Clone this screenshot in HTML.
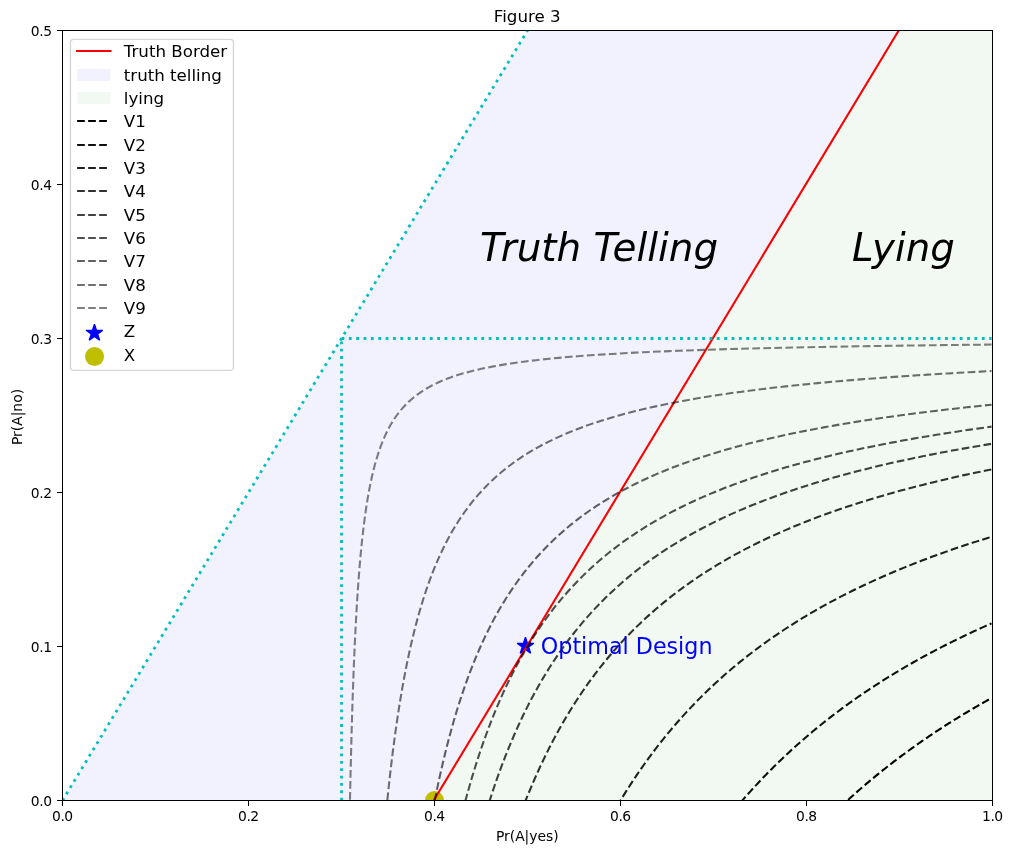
<!DOCTYPE html>
<html lang="en"><head><meta charset="utf-8"><title>Figure 3</title>
<style>html,body{margin:0;padding:0;background:#fff;}body{width:1012px;height:854px;overflow:hidden;}svg{display:block;will-change:transform;transform:translateZ(0);}text{font-family:"DejaVu Sans","Liberation Sans",sans-serif;fill:#000;}</style></head><body>
<svg width="1012" height="854" viewBox="0 0 1012 854">
<rect x="0" y="0" width="1012" height="854" fill="#ffffff"/>
<defs><clipPath id="ax"><rect x="62.5" y="30.5" width="930" height="770"/></clipPath></defs>
<g clip-path="url(#ax)">
<polygon points="62.5,800.5 527.5,30.5 899.5,30.5 434.5,800.5" fill="#0000ff" fill-opacity="0.05"/>
<polygon points="434.5,800.5 899.5,30.5 992.5,30.5 992.5,800.5" fill="#008000" fill-opacity="0.05"/>
<polygon points="525.45,637.2 523.47,643.28 517.08,643.28 522.25,647.04 520.28,653.12 525.45,649.36 530.62,653.12 528.65,647.04 533.82,643.28 527.43,643.28" fill="#0000ff" stroke="#0000ff" stroke-width="1.3" stroke-linejoin="bevel"/>
<circle cx="434.5" cy="800.5" r="9.5" fill="#bfbf00"/>
<path d="M61.7 1416.5 L990.77 -121.96" fill="none" stroke="#ff0000" stroke-width="2.08" stroke-linecap="square"/>
<path d="M62.5 800.5 L991.57 -737.96" fill="none" stroke="#00bfbf" stroke-width="2.78" stroke-dasharray="2.78 4.58"/>
<path d="M341.5 800.5 L341.5 338.5" fill="none" stroke="#00bfbf" stroke-width="2.78" stroke-dasharray="2.78 4.58"/>
<path d="M341.5 338.5 L991.57 338.5" fill="none" stroke="#00bfbf" stroke-width="2.78" stroke-dasharray="2.78 4.58"/>
<path d="M794.04 855 L795.07 853.82 L796.1 852.65 L797.14 851.48 L798.18 850.31 L799.22 849.15 L800.26 847.99 L801.31 846.83 L802.36 845.67 L803.41 844.52 L804.46 843.37 L805.52 842.22 L806.58 841.07 L807.64 839.93 L808.7 838.79 L809.77 837.65 L810.84 836.51 L811.91 835.38 L812.98 834.25 L814.05 833.12 L815.13 832 L816.21 830.87 L817.29 829.75 L818.38 828.63 L819.47 827.52 L820.56 826.41 L821.65 825.3 L822.74 824.19 L823.84 823.08 L824.94 821.98 L826.04 820.88 L827.15 819.78 L828.26 818.69 L829.37 817.6 L830.48 816.5 L831.6 815.42 L832.71 814.33 L833.83 813.25 L834.96 812.17 L836.08 811.09 L837.21 810.02 L838.34 808.94 L839.47 807.87 L840.61 806.8 L841.75 805.74 L842.89 804.68 L844.03 803.61 L845.18 802.56 L846.33 801.5 L847.48 800.45 L848.63 799.4 L849.79 798.35 L850.95 797.3 L852.11 796.26 L853.27 795.22 L854.44 794.18 L855.61 793.14 L856.78 792.1 L857.96 791.07 L859.14 790.04 L860.32 789.02 L861.5 787.99 L862.69 786.97 L863.88 785.95 L865.07 784.93 L866.26 783.91 L867.46 782.9 L868.66 781.89 L869.86 780.88 L871.06 779.87 L872.27 778.87 L873.48 777.87 L874.7 776.87 L875.91 775.87 L877.13 774.87 L878.35 773.88 L879.58 772.89 L880.8 771.9 L882.03 770.92 L883.27 769.93 L884.5 768.95 L885.74 767.97 L886.98 766.99 L888.23 766.02 L889.47 765.05 L890.72 764.07 L891.97 763.11 L893.23 762.14 L894.49 761.18 L895.75 760.21 L897.01 759.25 L898.28 758.3 L899.55 757.34 L900.82 756.39 L902.1 755.44 L903.38 754.49 L904.66 753.54 L905.94 752.6 L907.23 751.66 L908.52 750.72 L909.81 749.78 L911.11 748.84 L912.41 747.91 L913.71 746.98 L915.02 746.05 L916.32 745.12 L917.64 744.19 L918.95 743.27 L920.27 742.35 L921.59 741.43 L922.91 740.51 L924.24 739.6 L925.56 738.69 L926.9 737.78 L928.23 736.87 L929.57 735.96 L930.91 735.06 L932.26 734.15 L933.6 733.25 L934.95 732.36 L936.31 731.46 L937.66 730.57 L939.02 729.67 L940.39 728.78 L941.75 727.9 L943.12 727.01 L944.49 726.13 L945.87 725.24 L947.25 724.36 L948.63 723.49 L950.01 722.61 L951.4 721.74 L952.79 720.86 L954.18 719.99 L955.58 719.13 L956.98 718.26 L958.39 717.39 L959.79 716.53 L961.2 715.67 L962.62 714.81 L964.03 713.96 L965.45 713.1 L966.88 712.25 L968.3 711.4 L969.73 710.55 L971.16 709.71 L972.6 708.86 L974.04 708.02 L975.48 707.18 L976.93 706.34 L978.38 705.5 L979.83 704.67 L981.29 703.83 L982.75 703 L984.21 702.17 L985.67 701.34 L987.14 700.52 L988.61 699.7 L990.09 698.87 L991.57 698.05" fill="none" stroke="#000000" stroke-opacity="1" stroke-width="2.08" stroke-dasharray="7.71 3.33"/>
<path d="M700.04 855 L701.38 853.07 L702.73 851.15 L704.08 849.23 L705.44 847.33 L706.81 845.42 L708.18 843.53 L709.55 841.64 L710.93 839.77 L712.32 837.89 L713.71 836.03 L715.1 834.17 L716.5 832.32 L717.91 830.47 L719.32 828.63 L720.74 826.8 L722.16 824.98 L723.59 823.16 L725.02 821.35 L726.46 819.55 L727.9 817.75 L729.35 815.96 L730.8 814.18 L732.26 812.4 L733.73 810.63 L735.2 808.87 L736.68 807.11 L738.16 805.36 L739.64 803.62 L741.14 801.88 L742.64 800.15 L744.14 798.42 L745.65 796.7 L747.17 794.99 L748.69 793.29 L750.21 791.59 L751.75 789.9 L753.28 788.21 L754.83 786.53 L756.38 784.86 L757.93 783.19 L759.49 781.53 L761.06 779.87 L762.63 778.22 L764.21 776.58 L765.8 774.95 L767.39 773.32 L768.99 771.69 L770.59 770.07 L772.2 768.46 L773.81 766.85 L775.43 765.25 L777.06 763.66 L778.69 762.07 L780.33 760.49 L781.98 758.91 L783.63 757.34 L785.29 755.78 L786.95 754.22 L788.62 752.67 L790.3 751.12 L791.98 749.58 L793.67 748.04 L795.37 746.51 L797.07 744.99 L798.78 743.47 L800.49 741.96 L802.21 740.45 L803.94 738.95 L805.67 737.45 L807.41 735.96 L809.16 734.48 L810.91 733 L812.67 731.53 L814.44 730.06 L816.21 728.59 L817.99 727.14 L819.78 725.69 L821.57 724.24 L823.37 722.8 L825.18 721.36 L826.99 719.93 L828.81 718.51 L830.64 717.09 L832.48 715.67 L834.32 714.27 L836.16 712.86 L838.02 711.46 L839.88 710.07 L841.75 708.68 L843.63 707.3 L845.51 705.92 L847.4 704.55 L849.29 703.18 L851.2 701.82 L853.11 700.46 L855.03 699.11 L856.95 697.76 L858.89 696.42 L860.83 695.08 L862.77 693.75 L864.73 692.43 L866.69 691.1 L868.66 689.79 L870.64 688.47 L872.62 687.17 L874.61 685.86 L876.61 684.57 L878.62 683.27 L880.63 681.99 L882.65 680.7 L884.68 679.42 L886.72 678.15 L888.76 676.88 L890.81 675.62 L892.87 674.36 L894.94 673.1 L897.02 671.85 L899.1 670.61 L901.19 669.37 L903.29 668.13 L905.39 666.9 L907.51 665.67 L909.63 664.45 L911.76 663.23 L913.9 662.02 L916.05 660.81 L918.2 659.61 L920.36 658.41 L922.53 657.21 L924.71 656.02 L926.9 654.84 L929.09 653.66 L931.3 652.48 L933.51 651.31 L935.73 650.14 L937.95 648.97 L940.19 647.81 L942.44 646.66 L944.69 645.51 L946.95 644.36 L949.22 643.22 L951.5 642.08 L953.79 640.95 L956.08 639.82 L958.39 638.69 L960.7 637.57 L963.02 636.45 L965.35 635.34 L967.69 634.23 L970.04 633.13 L972.4 632.02 L974.76 630.93 L977.14 629.84 L979.52 628.75 L981.91 627.66 L984.31 626.58 L986.72 625.51 L989.14 624.44 L991.57 623.37" fill="none" stroke="#000000" stroke-opacity="0.94" stroke-width="2.08" stroke-dasharray="7.71 3.33"/>
<path d="M591.06 855 L592.57 851.9 L594.08 848.82 L595.61 845.75 L597.14 842.71 L598.69 839.68 L600.24 836.67 L601.8 833.68 L603.38 830.71 L604.96 827.76 L606.55 824.82 L608.15 821.9 L609.76 819 L611.38 816.11 L613.01 813.24 L614.65 810.4 L616.3 807.56 L617.96 804.75 L619.63 801.95 L621.31 799.17 L623 796.4 L624.7 793.65 L626.41 790.92 L628.13 788.2 L629.86 785.5 L631.6 782.82 L633.35 780.15 L635.12 777.5 L636.89 774.87 L638.67 772.25 L640.47 769.64 L642.27 767.05 L644.09 764.48 L645.92 761.92 L647.76 759.38 L649.61 756.86 L651.47 754.34 L653.34 751.85 L655.22 749.37 L657.12 746.9 L659.02 744.45 L660.94 742.01 L662.87 739.59 L664.81 737.18 L666.76 734.79 L668.73 732.41 L670.7 730.04 L672.69 727.69 L674.69 725.36 L676.71 723.03 L678.73 720.73 L680.77 718.43 L682.82 716.15 L684.88 713.88 L686.95 711.63 L689.04 709.39 L691.14 707.16 L693.25 704.95 L695.37 702.75 L697.51 700.56 L699.66 698.39 L701.82 696.23 L704 694.08 L706.19 691.95 L708.39 689.83 L710.61 687.72 L712.83 685.62 L715.08 683.54 L717.33 681.47 L719.6 679.41 L721.89 677.36 L724.18 675.33 L726.5 673.3 L728.82 671.29 L731.16 669.3 L733.51 667.31 L735.88 665.34 L738.26 663.37 L740.66 661.42 L743.07 659.49 L745.49 657.56 L747.93 655.64 L750.39 653.74 L752.86 651.85 L755.34 649.97 L757.84 648.1 L760.36 646.24 L762.89 644.39 L765.43 642.55 L767.99 640.73 L770.57 638.91 L773.16 637.11 L775.77 635.32 L778.39 633.54 L781.03 631.77 L783.68 630 L786.35 628.25 L789.04 626.52 L791.74 624.79 L794.46 623.07 L797.2 621.36 L799.95 619.66 L802.72 617.97 L805.5 616.3 L808.3 614.63 L811.12 612.97 L813.96 611.32 L816.81 609.69 L819.68 608.06 L822.57 606.44 L825.48 604.83 L828.4 603.23 L831.34 601.64 L834.3 600.06 L837.28 598.49 L840.27 596.93 L843.28 595.38 L846.31 593.84 L849.36 592.31 L852.43 590.78 L855.51 589.27 L858.62 587.76 L861.74 586.27 L864.88 584.78 L868.04 583.3 L871.22 581.83 L874.42 580.37 L877.64 578.92 L880.88 577.47 L884.14 576.04 L887.42 574.61 L890.71 573.2 L894.03 571.79 L897.37 570.39 L900.72 568.99 L904.1 567.61 L907.5 566.24 L910.92 564.87 L914.36 563.51 L917.82 562.16 L921.3 560.82 L924.8 559.48 L928.32 558.15 L931.86 556.84 L935.43 555.53 L939.02 554.22 L942.63 552.93 L946.26 551.64 L949.91 550.36 L953.58 549.09 L957.28 547.82 L961 546.57 L964.74 545.32 L968.5 544.08 L972.29 542.84 L976.1 541.62 L979.93 540.4 L983.79 539.19 L987.67 537.98 L991.57 536.78" fill="none" stroke="#000000" stroke-opacity="0.88" stroke-width="2.08" stroke-dasharray="7.71 3.33"/>
<path d="M506.21 855 L507.64 850.56 L509.08 846.16 L510.53 841.79 L512 837.47 L513.48 833.18 L514.97 828.92 L516.47 824.71 L517.99 820.53 L519.52 816.38 L521.06 812.27 L522.62 808.2 L524.19 804.16 L525.78 800.16 L527.37 796.19 L528.99 792.25 L530.61 788.35 L532.25 784.49 L533.91 780.65 L535.57 776.85 L537.26 773.08 L538.96 769.35 L540.67 765.64 L542.39 761.97 L544.14 758.33 L545.89 754.72 L547.67 751.14 L549.45 747.59 L551.26 744.08 L553.08 740.59 L554.91 737.13 L556.76 733.7 L558.63 730.31 L560.51 726.94 L562.41 723.6 L564.33 720.29 L566.26 717.01 L568.21 713.75 L570.17 710.53 L572.16 707.33 L574.16 704.16 L576.18 701.01 L578.21 697.9 L580.26 694.81 L582.33 691.74 L584.42 688.71 L586.53 685.69 L588.65 682.71 L590.8 679.75 L592.96 676.82 L595.14 673.91 L597.34 671.02 L599.56 668.17 L601.8 665.33 L604.05 662.52 L606.33 659.74 L608.63 656.97 L610.94 654.24 L613.28 651.52 L615.64 648.83 L618.01 646.16 L620.41 643.52 L622.83 640.89 L625.27 638.29 L627.73 635.72 L630.21 633.16 L632.72 630.63 L635.24 628.12 L637.79 625.63 L640.36 623.16 L642.95 620.71 L645.56 618.29 L648.2 615.88 L650.86 613.49 L653.54 611.13 L656.25 608.79 L658.98 606.46 L661.73 604.16 L664.51 601.88 L667.31 599.61 L670.14 597.37 L672.99 595.14 L675.86 592.93 L678.76 590.75 L681.68 588.58 L684.63 586.43 L687.61 584.3 L690.61 582.18 L693.64 580.09 L696.69 578.01 L699.77 575.95 L702.88 573.91 L706.01 571.89 L709.18 569.88 L712.36 567.89 L715.58 565.92 L718.82 563.96 L722.1 562.03 L725.4 560.1 L728.73 558.2 L732.08 556.31 L735.47 554.44 L738.89 552.58 L742.33 550.74 L745.81 548.91 L749.32 547.11 L752.85 545.31 L756.42 543.53 L760.02 541.77 L763.65 540.02 L767.31 538.29 L771 536.57 L774.72 534.87 L778.48 533.18 L782.27 531.51 L786.09 529.85 L789.95 528.2 L793.84 526.57 L797.76 524.96 L801.72 523.35 L805.71 521.76 L809.73 520.19 L813.79 518.63 L817.89 517.08 L822.02 515.54 L826.19 514.02 L830.39 512.51 L834.63 511.02 L838.91 509.53 L843.22 508.06 L847.57 506.6 L851.96 505.16 L856.39 503.73 L860.85 502.31 L865.36 500.9 L869.9 499.5 L874.48 498.12 L879.1 496.74 L883.76 495.38 L888.47 494.04 L893.21 492.7 L897.99 491.37 L902.82 490.06 L907.69 488.76 L912.6 487.46 L917.55 486.18 L922.55 484.91 L927.59 483.65 L932.67 482.41 L937.79 481.17 L942.97 479.94 L948.18 478.73 L953.44 477.52 L958.75 476.33 L964.1 475.14 L969.5 473.97 L974.95 472.8 L980.44 471.65 L985.98 470.5 L991.57 469.37" fill="none" stroke="#000000" stroke-opacity="0.81" stroke-width="2.08" stroke-dasharray="7.71 3.33"/>
<path d="M474.04 855 L475.38 849.86 L476.72 844.77 L478.08 839.73 L479.45 834.75 L480.84 829.81 L482.24 824.92 L483.66 820.08 L485.08 815.29 L486.53 810.54 L487.99 805.84 L489.46 801.19 L490.95 796.59 L492.45 792.03 L493.96 787.52 L495.5 783.05 L497.04 778.63 L498.61 774.25 L500.19 769.91 L501.78 765.62 L503.39 761.37 L505.02 757.16 L506.66 752.99 L508.32 748.87 L510 744.78 L511.69 740.74 L513.41 736.74 L515.13 732.77 L516.88 728.85 L518.64 724.97 L520.42 721.12 L522.22 717.31 L524.04 713.54 L525.87 709.81 L527.72 706.12 L529.6 702.46 L531.49 698.84 L533.4 695.25 L535.33 691.7 L537.27 688.19 L539.24 684.71 L541.23 681.26 L543.24 677.85 L545.26 674.47 L547.31 671.13 L549.38 667.82 L551.47 664.54 L553.58 661.3 L555.71 658.09 L557.87 654.91 L560.04 651.76 L562.24 648.64 L564.46 645.55 L566.7 642.5 L568.96 639.47 L571.25 636.48 L573.56 633.51 L575.89 630.58 L578.24 627.67 L580.62 624.79 L583.03 621.94 L585.45 619.12 L587.91 616.33 L590.38 613.57 L592.88 610.83 L595.41 608.12 L597.96 605.44 L600.54 602.78 L603.14 600.15 L605.77 597.55 L608.43 594.97 L611.11 592.42 L613.82 589.89 L616.56 587.39 L619.33 584.91 L622.12 582.46 L624.94 580.03 L627.79 577.63 L630.66 575.25 L633.57 572.89 L636.51 570.56 L639.47 568.25 L642.47 565.96 L645.49 563.7 L648.55 561.46 L651.63 559.24 L654.75 557.04 L657.9 554.87 L661.08 552.72 L664.29 550.58 L667.54 548.47 L670.81 546.38 L674.12 544.32 L677.47 542.27 L680.84 540.24 L684.25 538.23 L687.7 536.24 L691.18 534.28 L694.69 532.33 L698.24 530.4 L701.83 528.49 L705.45 526.6 L709.11 524.73 L712.8 522.87 L716.54 521.04 L720.31 519.22 L724.11 517.43 L727.96 515.64 L731.84 513.88 L735.77 512.14 L739.73 510.41 L743.73 508.7 L747.78 507 L751.86 505.33 L755.98 503.67 L760.15 502.02 L764.36 500.4 L768.61 498.79 L772.9 497.19 L777.24 495.61 L781.62 494.05 L786.04 492.5 L790.51 490.97 L795.02 489.45 L799.58 487.95 L804.18 486.46 L808.83 484.99 L813.53 483.53 L818.28 482.09 L823.07 480.66 L827.91 479.24 L832.8 477.84 L837.74 476.46 L842.72 475.08 L847.76 473.72 L852.85 472.38 L857.99 471.05 L863.18 469.73 L868.43 468.42 L873.72 467.13 L879.07 465.85 L884.47 464.58 L889.93 463.33 L895.44 462.08 L901.01 460.86 L906.64 459.64 L912.32 458.43 L918.05 457.24 L923.85 456.06 L929.7 454.89 L935.61 453.73 L941.59 452.58 L947.62 451.45 L953.71 450.32 L959.86 449.21 L966.08 448.11 L972.36 447.02 L978.7 445.94 L985.1 444.87 L991.57 443.81" fill="none" stroke="#000000" stroke-opacity="0.75" stroke-width="2.08" stroke-dasharray="7.71 3.33"/>
<path d="M452.42 855 L453.66 849.29 L454.91 843.64 L456.18 838.05 L457.46 832.53 L458.76 827.06 L460.07 821.66 L461.4 816.32 L462.74 811.03 L464.09 805.81 L465.46 800.64 L466.85 795.53 L468.25 790.47 L469.67 785.47 L471.1 780.53 L472.55 775.64 L474.02 770.81 L475.5 766.02 L477 761.3 L478.51 756.62 L480.05 752 L481.6 747.42 L483.16 742.9 L484.75 738.43 L486.35 734 L487.97 729.63 L489.61 725.3 L491.26 721.03 L492.94 716.8 L494.63 712.61 L496.34 708.47 L498.08 704.38 L499.83 700.34 L501.6 696.33 L503.39 692.38 L505.2 688.46 L507.03 684.59 L508.88 680.76 L510.75 676.98 L512.64 673.23 L514.56 669.53 L516.49 665.87 L518.45 662.25 L520.43 658.67 L522.43 655.13 L524.45 651.63 L526.5 648.16 L528.57 644.74 L530.66 641.35 L532.78 638 L534.92 634.69 L537.08 631.41 L539.27 628.18 L541.48 624.97 L543.71 621.8 L545.98 618.67 L548.26 615.57 L550.58 612.51 L552.91 609.48 L555.28 606.48 L557.67 603.52 L560.09 600.58 L562.53 597.69 L565 594.82 L567.5 591.98 L570.03 589.18 L572.59 586.41 L575.17 583.67 L577.78 580.96 L580.43 578.27 L583.1 575.62 L585.8 573 L588.53 570.41 L591.29 567.84 L594.09 565.3 L596.91 562.8 L599.77 560.32 L602.66 557.86 L605.58 555.44 L608.53 553.04 L611.52 550.66 L614.54 548.32 L617.59 546 L620.68 543.7 L623.8 541.43 L626.96 539.19 L630.15 536.97 L633.38 534.77 L636.64 532.6 L639.94 530.46 L643.28 528.33 L646.66 526.23 L650.07 524.16 L653.52 522.1 L657.01 520.07 L660.54 518.07 L664.11 516.08 L667.71 514.12 L671.36 512.17 L675.05 510.25 L678.78 508.35 L682.55 506.47 L686.37 504.62 L690.22 502.78 L694.12 500.96 L698.07 499.17 L702.05 497.39 L706.09 495.63 L710.16 493.89 L714.29 492.17 L718.46 490.48 L722.67 488.79 L726.93 487.13 L731.25 485.49 L735.6 483.86 L740.01 482.25 L744.47 480.66 L748.98 479.09 L753.53 477.54 L758.14 476 L762.8 474.48 L767.51 472.98 L772.28 471.49 L777.09 470.02 L781.96 468.56 L786.89 467.12 L791.87 465.7 L796.91 464.29 L802 462.9 L807.15 461.53 L812.36 460.17 L817.62 458.82 L822.95 457.49 L828.33 456.17 L833.78 454.87 L839.28 453.59 L844.85 452.31 L850.48 451.05 L856.17 449.81 L861.93 448.58 L867.75 447.36 L873.63 446.16 L879.58 444.97 L885.6 443.79 L891.69 442.62 L897.84 441.47 L904.06 440.33 L910.35 439.21 L916.72 438.09 L923.15 436.99 L929.65 435.9 L936.23 434.83 L942.88 433.76 L949.61 432.71 L956.41 431.67 L963.28 430.63 L970.24 429.62 L977.27 428.61 L984.38 427.61 L991.57 426.63" fill="none" stroke="#000000" stroke-opacity="0.69" stroke-width="2.08" stroke-dasharray="7.71 3.33"/>
<path d="M425.09 855 L426.16 848.33 L427.25 841.75 L428.34 835.25 L429.46 828.83 L430.58 822.5 L431.73 816.25 L432.88 810.08 L434.06 803.99 L435.24 797.98 L436.45 792.05 L437.67 786.19 L438.9 780.41 L440.15 774.71 L441.42 769.08 L442.71 763.52 L444.01 758.03 L445.33 752.62 L446.66 747.27 L448.01 742 L449.39 736.79 L450.77 731.65 L452.18 726.58 L453.61 721.57 L455.05 716.63 L456.51 711.75 L458 706.93 L459.5 702.18 L461.02 697.49 L462.56 692.86 L464.12 688.29 L465.71 683.78 L467.31 679.32 L468.93 674.93 L470.58 670.59 L472.25 666.31 L473.93 662.08 L475.65 657.91 L477.38 653.79 L479.14 649.72 L480.91 645.71 L482.72 641.75 L484.54 637.84 L486.39 633.98 L488.27 630.17 L490.17 626.41 L492.09 622.7 L494.04 619.04 L496.02 615.43 L498.02 611.86 L500.04 608.34 L502.1 604.86 L504.18 601.43 L506.29 598.04 L508.42 594.7 L510.58 591.4 L512.78 588.14 L515 584.93 L517.25 581.75 L519.53 578.62 L521.83 575.53 L524.17 572.48 L526.54 569.47 L528.95 566.49 L531.38 563.56 L533.84 560.66 L536.34 557.8 L538.87 554.98 L541.43 552.2 L544.03 549.45 L546.66 546.73 L549.33 544.05 L552.03 541.41 L554.76 538.8 L557.53 536.22 L560.34 533.68 L563.19 531.17 L566.07 528.7 L568.99 526.25 L571.95 523.84 L574.94 521.45 L577.98 519.1 L581.05 516.78 L584.17 514.49 L587.33 512.23 L590.53 510 L593.77 507.8 L597.05 505.62 L600.38 503.48 L603.75 501.36 L607.16 499.27 L610.62 497.2 L614.12 495.16 L617.67 493.15 L621.27 491.17 L624.92 489.21 L628.61 487.28 L632.35 485.37 L636.14 483.48 L639.98 481.62 L643.87 479.79 L647.81 477.98 L651.8 476.19 L655.84 474.42 L659.94 472.68 L664.09 470.96 L668.3 469.26 L672.56 467.59 L676.88 465.93 L681.25 464.3 L685.68 462.69 L690.17 461.1 L694.72 459.53 L699.32 457.98 L703.99 456.45 L708.72 454.94 L713.51 453.45 L718.37 451.98 L723.29 450.53 L728.27 449.1 L733.32 447.68 L738.43 446.29 L743.61 444.91 L748.86 443.55 L754.18 442.21 L759.57 440.88 L765.02 439.57 L770.55 438.28 L776.16 437.01 L781.83 435.75 L787.58 434.51 L793.41 433.28 L799.31 432.08 L805.29 430.88 L811.35 429.7 L817.49 428.54 L823.71 427.39 L830.01 426.26 L836.39 425.14 L842.86 424.04 L849.41 422.95 L856.04 421.87 L862.77 420.81 L869.58 419.76 L876.48 418.73 L883.47 417.71 L890.56 416.7 L897.74 415.7 L905.01 414.72 L912.37 413.75 L919.84 412.8 L927.4 411.85 L935.06 410.92 L942.82 410 L950.68 409.09 L958.65 408.2 L966.72 407.31 L974.89 406.44 L983.18 405.58 L991.57 404.73" fill="none" stroke="#000000" stroke-opacity="0.62" stroke-width="2.08" stroke-dasharray="7.71 3.33"/>
<path d="M382.4 855 L383.13 846.14 L383.87 837.44 L384.62 828.88 L385.39 820.47 L386.17 812.21 L386.96 804.08 L387.77 796.1 L388.59 788.25 L389.42 780.53 L390.27 772.95 L391.14 765.5 L392.02 758.18 L392.91 750.98 L393.82 743.9 L394.75 736.95 L395.69 730.11 L396.65 723.39 L397.62 716.79 L398.62 710.3 L399.63 703.92 L400.66 697.65 L401.7 691.49 L402.76 685.43 L403.85 679.48 L404.95 673.63 L406.07 667.88 L407.21 662.23 L408.37 656.67 L409.55 651.21 L410.75 645.84 L411.97 640.57 L413.21 635.39 L414.48 630.29 L415.76 625.28 L417.07 620.36 L418.4 615.52 L419.76 610.77 L421.14 606.09 L422.54 601.5 L423.96 596.98 L425.42 592.54 L426.89 588.18 L428.4 583.9 L429.92 579.68 L431.48 575.54 L433.06 571.47 L434.67 567.47 L436.31 563.54 L437.98 559.67 L439.67 555.87 L441.4 552.14 L443.15 548.47 L444.94 544.86 L446.76 541.32 L448.61 537.83 L450.49 534.41 L452.4 531.04 L454.35 527.73 L456.33 524.48 L458.35 521.29 L460.4 518.14 L462.48 515.06 L464.61 512.02 L466.77 509.04 L468.96 506.11 L471.2 503.23 L473.47 500.39 L475.79 497.61 L478.14 494.88 L480.54 492.19 L482.98 489.54 L485.46 486.95 L487.98 484.39 L490.55 481.88 L493.16 479.42 L495.82 476.99 L498.52 474.61 L501.27 472.27 L504.07 469.97 L506.92 467.7 L509.82 465.48 L512.76 463.29 L515.76 461.15 L518.81 459.04 L521.92 456.96 L525.08 454.92 L528.29 452.92 L531.56 450.95 L534.89 449.01 L538.27 447.11 L541.72 445.24 L545.22 443.4 L548.78 441.59 L552.41 439.81 L556.1 438.07 L559.86 436.35 L563.67 434.66 L567.56 433.01 L571.52 431.38 L575.54 429.78 L579.63 428.2 L583.8 426.66 L588.03 425.14 L592.34 423.64 L596.73 422.17 L601.19 420.73 L605.73 419.31 L610.35 417.91 L615.05 416.54 L619.83 415.2 L624.7 413.87 L629.65 412.57 L634.68 411.29 L639.81 410.03 L645.02 408.8 L650.32 407.58 L655.72 406.39 L661.21 405.22 L666.8 404.06 L672.48 402.93 L678.26 401.82 L684.15 400.72 L690.13 399.64 L696.22 398.59 L702.42 397.55 L708.72 396.52 L715.14 395.52 L721.66 394.53 L728.3 393.56 L735.06 392.61 L741.93 391.67 L748.92 390.75 L756.04 389.85 L763.28 388.96 L770.64 388.08 L778.13 387.22 L785.76 386.38 L793.51 385.54 L801.4 384.73 L809.43 383.93 L817.6 383.14 L825.91 382.36 L834.37 381.6 L842.97 380.85 L851.73 380.12 L860.63 379.39 L869.7 378.68 L878.91 377.98 L888.29 377.3 L897.84 376.62 L907.55 375.96 L917.43 375.31 L927.48 374.66 L937.7 374.03 L948.11 373.42 L958.69 372.81 L969.46 372.21 L980.42 371.62 L991.57 371.04" fill="none" stroke="#000000" stroke-opacity="0.56" stroke-width="2.08" stroke-dasharray="7.71 3.33"/>
<path d="M348.99 855 L349.22 841.05 L349.46 827.48 L349.71 814.27 L349.96 801.42 L350.22 788.92 L350.49 776.75 L350.77 764.91 L351.05 753.39 L351.34 742.18 L351.64 731.28 L351.94 720.67 L352.26 710.34 L352.58 700.29 L352.92 690.52 L353.26 681 L353.61 671.75 L353.97 662.74 L354.34 653.98 L354.73 645.45 L355.12 637.16 L355.52 629.08 L355.94 621.23 L356.36 613.59 L356.8 606.15 L357.25 598.91 L357.71 591.87 L358.19 585.02 L358.68 578.35 L359.18 571.87 L359.69 565.55 L360.22 559.41 L360.77 553.44 L361.33 547.62 L361.9 541.96 L362.5 536.46 L363.1 531.1 L363.73 525.89 L364.37 520.82 L365.03 515.88 L365.71 511.08 L366.4 506.41 L367.12 501.87 L367.86 497.44 L368.61 493.14 L369.39 488.95 L370.19 484.87 L371.01 480.91 L371.86 477.05 L372.72 473.3 L373.61 469.64 L374.53 466.09 L375.47 462.63 L376.44 459.27 L377.43 455.99 L378.46 452.81 L379.51 449.71 L380.59 446.69 L381.69 443.76 L382.83 440.9 L384.01 438.12 L385.21 435.42 L386.45 432.79 L387.72 430.23 L389.03 427.73 L390.37 425.31 L391.75 422.95 L393.17 420.66 L394.63 418.42 L396.13 416.25 L397.67 414.14 L399.25 412.08 L400.88 410.08 L402.55 408.13 L404.27 406.24 L406.03 404.39 L407.85 402.6 L409.71 400.85 L411.63 399.16 L413.6 397.5 L415.62 395.89 L417.7 394.33 L419.84 392.81 L422.04 391.33 L424.3 389.88 L426.62 388.48 L429.01 387.12 L431.46 385.79 L433.98 384.5 L436.57 383.24 L439.23 382.01 L441.96 380.82 L444.77 379.67 L447.66 378.54 L450.63 377.44 L453.68 376.38 L456.82 375.34 L460.04 374.33 L463.35 373.34 L466.76 372.39 L470.26 371.46 L473.85 370.55 L477.55 369.67 L481.34 368.81 L485.25 367.98 L489.26 367.17 L493.38 366.38 L497.62 365.61 L501.97 364.86 L506.44 364.13 L511.04 363.42 L515.77 362.74 L520.63 362.06 L525.62 361.41 L530.75 360.78 L536.02 360.16 L541.44 359.56 L547.01 358.97 L552.73 358.41 L558.61 357.85 L564.66 357.31 L570.87 356.79 L577.25 356.28 L583.81 355.78 L590.56 355.3 L597.49 354.83 L604.61 354.37 L611.93 353.93 L619.45 353.5 L627.19 353.07 L635.13 352.66 L643.3 352.27 L651.69 351.88 L660.31 351.5 L669.18 351.13 L678.29 350.78 L687.65 350.43 L697.27 350.09 L707.16 349.76 L717.33 349.44 L727.77 349.13 L738.5 348.83 L749.54 348.53 L760.87 348.24 L772.53 347.96 L784.5 347.69 L796.81 347.43 L809.46 347.17 L822.46 346.92 L835.82 346.68 L849.55 346.44 L863.66 346.21 L878.16 345.98 L893.06 345.76 L908.38 345.55 L924.12 345.35 L940.3 345.14 L956.92 344.95 L974.01 344.76 L991.57 344.57" fill="none" stroke="#000000" stroke-opacity="0.5" stroke-width="2.08" stroke-dasharray="7.71 3.33"/>
</g>
<text x="480" y="260.5" font-size="38.89" font-style="italic">Truth Telling</text>
<text x="851.9" y="260.5" font-size="38.68" font-style="italic">Lying</text>
<text x="540.8" y="654" font-size="22.22" style="fill:#0000ff">Optimal Design</text>
<g stroke="#000" stroke-width="1" fill="none" shape-rendering="crispEdges">
<rect x="62.5" y="30.5" width="930" height="770"/>
<line x1="62.5" y1="800.5" x2="62.5" y2="805.5"/>
<line x1="248.5" y1="800.5" x2="248.5" y2="805.5"/>
<line x1="434.5" y1="800.5" x2="434.5" y2="805.5"/>
<line x1="620.5" y1="800.5" x2="620.5" y2="805.5"/>
<line x1="806.5" y1="800.5" x2="806.5" y2="805.5"/>
<line x1="992.5" y1="800.5" x2="992.5" y2="805.5"/>
<line x1="57" y1="800.5" x2="62.5" y2="800.5"/>
<line x1="57" y1="646.5" x2="62.5" y2="646.5"/>
<line x1="57" y1="492.5" x2="62.5" y2="492.5"/>
<line x1="57" y1="338.5" x2="62.5" y2="338.5"/>
<line x1="57" y1="184.5" x2="62.5" y2="184.5"/>
<line x1="57" y1="30.5" x2="62.5" y2="30.5"/>
</g>
<text x="62.4" y="821" font-size="13.89" text-anchor="middle" letter-spacing="-0.45">0.0</text>
<text x="248.4" y="821" font-size="13.89" text-anchor="middle" letter-spacing="-0.45">0.2</text>
<text x="434.4" y="821" font-size="13.89" text-anchor="middle" letter-spacing="-0.45">0.4</text>
<text x="620.4" y="821" font-size="13.89" text-anchor="middle" letter-spacing="-0.45">0.6</text>
<text x="806.4" y="821" font-size="13.89" text-anchor="middle" letter-spacing="-0.45">0.8</text>
<text x="992.4" y="821" font-size="13.89" text-anchor="middle" letter-spacing="-0.45">1.0</text>
<text x="51.55" y="806" font-size="13.89" text-anchor="end" letter-spacing="-0.45">0.0</text>
<text x="51.55" y="652" font-size="13.89" text-anchor="end" letter-spacing="-0.45">0.1</text>
<text x="51.55" y="498" font-size="13.89" text-anchor="end" letter-spacing="-0.45">0.2</text>
<text x="51.55" y="344" font-size="13.89" text-anchor="end" letter-spacing="-0.45">0.3</text>
<text x="51.55" y="190" font-size="13.89" text-anchor="end" letter-spacing="-0.45">0.4</text>
<text x="51.55" y="36" font-size="13.89" text-anchor="end" letter-spacing="-0.45">0.5</text>
<text x="527.3" y="841" font-size="13.89" text-anchor="middle">Pr(A|yes)</text>
<text transform="translate(22.1 417) rotate(-90)" font-size="13.89" text-anchor="middle">Pr(A|no)</text>
<text x="527.2" y="22" font-size="16.67" text-anchor="middle">Figure 3</text>
<rect x="70.45" y="39.4" width="163" height="331" rx="3.3" ry="3.3" fill="#ffffff" fill-opacity="0.8" stroke="#cccccc" stroke-opacity="0.8" stroke-width="1.39"/>
<path d="M77.1 51 L110.43 51" stroke="#ff0000" stroke-width="2.08" stroke-linecap="square" fill="none"/>
<text x="123.77" y="57" font-size="16.67">Truth Border</text>
<rect x="77.1" y="69" width="33.33" height="12" fill="#0000ff" fill-opacity="0.05"/>
<text x="123.77" y="81" font-size="16.67">truth telling</text>
<rect x="77.1" y="92" width="33.33" height="12" fill="#008000" fill-opacity="0.05"/>
<text x="123.77" y="104" font-size="16.67">lying</text>
<path d="M77.1 121 L110.1 121" stroke="#000" stroke-opacity="1" stroke-width="2.08" stroke-dasharray="7.71 3.33" fill="none"/>
<text x="123.77" y="127" font-size="16.67">V1</text>
<path d="M77.1 145 L110.1 145" stroke="#000" stroke-opacity="0.94" stroke-width="2.08" stroke-dasharray="7.71 3.33" fill="none"/>
<text x="123.77" y="151" font-size="16.67">V2</text>
<path d="M77.1 168 L110.1 168" stroke="#000" stroke-opacity="0.88" stroke-width="2.08" stroke-dasharray="7.71 3.33" fill="none"/>
<text x="123.77" y="174" font-size="16.67">V3</text>
<path d="M77.1 191 L110.1 191" stroke="#000" stroke-opacity="0.81" stroke-width="2.08" stroke-dasharray="7.71 3.33" fill="none"/>
<text x="123.77" y="197" font-size="16.67">V4</text>
<path d="M77.1 215 L110.1 215" stroke="#000" stroke-opacity="0.75" stroke-width="2.08" stroke-dasharray="7.71 3.33" fill="none"/>
<text x="123.77" y="221" font-size="16.67">V5</text>
<path d="M77.1 238 L110.1 238" stroke="#000" stroke-opacity="0.69" stroke-width="2.08" stroke-dasharray="7.71 3.33" fill="none"/>
<text x="123.77" y="244" font-size="16.67">V6</text>
<path d="M77.1 261 L110.1 261" stroke="#000" stroke-opacity="0.62" stroke-width="2.08" stroke-dasharray="7.71 3.33" fill="none"/>
<text x="123.77" y="267" font-size="16.67">V7</text>
<path d="M77.1 285 L110.1 285" stroke="#000" stroke-opacity="0.56" stroke-width="2.08" stroke-dasharray="7.71 3.33" fill="none"/>
<text x="123.77" y="291" font-size="16.67">V8</text>
<path d="M77.1 308 L110.1 308" stroke="#000" stroke-opacity="0.5" stroke-width="2.08" stroke-dasharray="7.71 3.33" fill="none"/>
<text x="123.77" y="314" font-size="16.67">V9</text>
<polygon points="94.45,324.2 92.47,330.28 86.08,330.28 91.25,334.04 89.28,340.12 94.45,336.36 99.62,340.12 97.65,334.04 102.82,330.28 96.43,330.28" fill="#0000ff" stroke="#0000ff" stroke-width="1.3" stroke-linejoin="bevel"/>
<text x="123.77" y="337" font-size="16.67">Z</text>
<circle cx="94.55" cy="356.43" r="9.5" fill="#bfbf00"/>
<text x="123.77" y="361" font-size="16.67">X</text>
</svg></body></html>
